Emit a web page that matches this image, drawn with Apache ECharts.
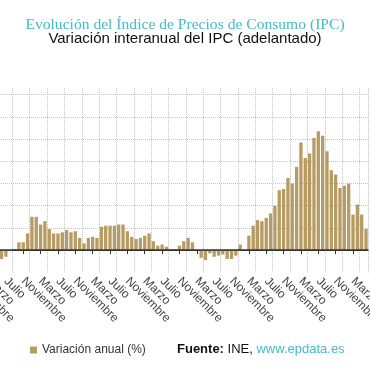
<!DOCTYPE html>
<html><head><meta charset="utf-8">
<script src="https://cdn.jsdelivr.net/npm/echarts@6/dist/echarts.min.js"></script>
<style>
html,body{margin:0;padding:0;background:#fff}
body{width:370px;height:370px;overflow:hidden;position:relative}
#c{position:absolute;left:-80px;top:0;width:480px;height:370px}
</style>
</head><body><div id="c"></div>
<script>
// Month names used for tick labels
const monthNames = ['Enero','Febrero','Marzo','Abril','Mayo','Junio','Julio','Agosto','Septiembre','Octubre','Noviembre','Diciembre'];
// Categories: Nov 2015 .. Jun 2023 (the first months lie left of the visible area)
const firstYear = 2015, firstMonth = 10;
const monthCount = 92;
const categories = [];
for (let k = 0; k < monthCount; k++) {
  const m = (firstMonth + k) % 12, y = firstYear + Math.floor((firstMonth + k) / 12);
  categories.push(monthNames[m] + ' ' + y);
}
// Off-picture months (Nov 2015 - May 2016): not visible, left empty
const hiddenValues = [null, null, null, null, null, null, null];
const values2016 = [-0.8, -0.6, -0.1, 0.1, 0.7, 0.7, 1.5]; // Jun-Dec
const values2017 = [3.0, 3.0, 2.3, 2.6, 1.9, 1.5, 1.5, 1.6, 1.8, 1.6, 1.7, 1.1];
const values2018 = [0.6, 1.1, 1.2, 1.1, 2.1, 2.2, 2.2, 2.2, 2.3, 2.3, 1.7, 1.2];
const values2019 = [1.0, 1.1, 1.3, 1.5, 0.8, 0.4, 0.5, 0.3, 0.1, 0.1, 0.4, 0.8];
const values2020 = [1.1, 0.7, 0.0, -0.7, -0.9, -0.3, -0.6, -0.5, -0.4, -0.8, -0.8, -0.5];
const values2021 = [0.5, 0.0, 1.3, 2.2, 2.7, 2.6, 2.9, 3.3, 4.0, 5.4, 5.5, 6.5];
const values2022 = [6.0, 7.5, 9.7, 8.3, 8.7, 10.1, 10.7, 10.3, 8.9, 7.2, 6.8, 5.6];
const values2023 = [5.8, 6.0, 3.2, 4.1, 3.2, 1.9]; // Jan-Jun
const seriesValues = [].concat(hiddenValues, values2016, values2017, values2018, values2019, values2020, values2021, values2022, values2023);

const labelMonths = ['Marzo', 'Julio', 'Noviembre'];
const gridMonths = ['Enero', 'Mayo', 'Septiembre'];
const yTicks = { min: -2, max: 14.6, interval: 2 };

const monthOf = i => categories[i].split(' ')[0];
const isLabel = (i) => labelMonths.indexOf(monthOf(i)) >= 0;
const isGrid = (i) => gridMonths.indexOf(monthOf(i)) >= 0;

// chart canvas is shifted 80px left of the visible window (and extends past its right edge)
const SHIFT = 80;
const CW = 480;

const chart = echarts.init(document.getElementById('c'), null, { renderer: 'canvas' });
chart.setOption({
  animation: false,
  backgroundColor: '#ffffff',
  title: [
    { text: 'Evolución del Índice de Precios de Consumo (IPC)', left: 185 + SHIFT, textAlign: 'center', top: 17, padding: 0,
      textStyle: { fontFamily: 'Liberation Serif', fontSize: 15.6, fontWeight: 'normal', color: '#45bcc4' } },
    { text: 'Variación interanual del IPC (adelantado)', left: 185 + SHIFT, textAlign: 'center', top: 31, padding: 0,
      textStyle: { fontFamily: 'Liberation Sans', fontSize: 15, fontWeight: 'normal', color: '#111111' } },
    { text: '{b|Fuente:} {n|INE,} {l|www.epdata.es}', left: 177 + SHIFT, top: 343, padding: 0,
      textStyle: { fontFamily: 'Liberation Sans', fontSize: 13, fontWeight: 'normal',
        rich: {
          b: { fontFamily: 'Liberation Sans', fontSize: 13, fontWeight: 'bold', color: '#111111' },
          n: { fontFamily: 'Liberation Sans', fontSize: 13, color: '#111111' },
          l: { fontFamily: 'Liberation Sans', fontSize: 13, color: '#45bcc4' }
        } } }
  ],
  legend: {
    left: 30 + SHIFT, top: 344, padding: 0, icon: 'rect', itemWidth: 7, itemHeight: 7,
    textStyle: { fontFamily: 'Liberation Sans', fontSize: 12, color: '#333333' },
    data: ['Variación anual (%)']
  },
  grid: { left: SHIFT - 31, right: CW - (368.2 + SHIFT), top: 88, bottom: 97.7, containLabel: false },
  xAxis: {
    type: 'category', data: categories, boundaryGap: true,
    axisLine: { show: true, lineStyle: { color: '#333333', width: 1 } },
    axisTick: { show: true, alignWithLabel: true, interval: isLabel, length: 4, lineStyle: { color: '#333333' } },
    axisLabel: { interval: isLabel, showMinLabel: true, showMaxLabel: true, rotate: -45, margin: 7, color: '#444444',
      fontSize: 12, fontFamily: 'Liberation Sans', formatter: v => v.split(' ')[0] },
    splitLine: { show: true, interval: isGrid, lineStyle: { type: 'dotted', color: '#c4c4c4', width: 1 } }
  },
  yAxis: {
    type: 'value', min: yTicks.min, max: yTicks.max, interval: yTicks.interval,
    axisLine: { show: false }, axisTick: { show: false }, axisLabel: { show: false },
    splitLine: { show: true, showMinLine: false, showMaxLine: false, lineStyle: { type: 'dotted', color: '#c4c4c4', width: 1 } }
  },
  series: [{
    name: 'Variación anual (%)', type: 'bar', data: seriesValues, barWidth: '76%',
    itemStyle: { color: '#b69b63' },
    markLine: { silent: true, symbol: 'none', label: { show: false },
      lineStyle: { color: '#333333', width: 1.5, type: 'solid' }, data: [{ yAxis: 0 }] }
  }]
});
</script>
</body></html>
